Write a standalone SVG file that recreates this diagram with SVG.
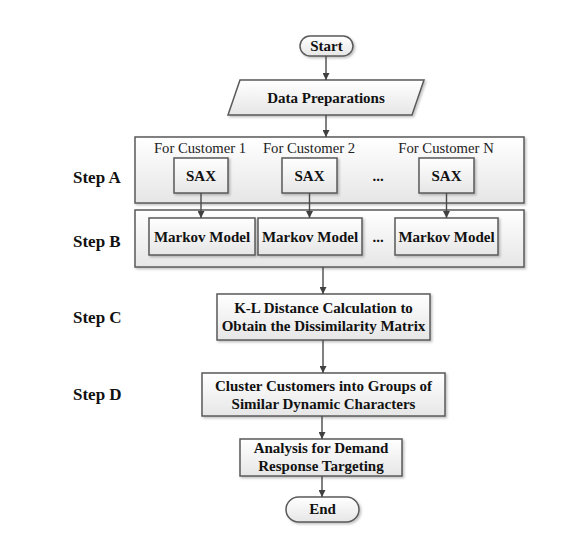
<svg xmlns="http://www.w3.org/2000/svg" width="564" height="536" viewBox="0 0 564 536">
<defs>
<linearGradient id="g" x1="0" y1="0" x2="0" y2="1">
<stop offset="0" stop-color="#ffffff"/>
<stop offset="1" stop-color="#e6e6e6"/>
</linearGradient>
<filter id="sh" x="-10%" y="-10%" width="130%" height="140%">
<feDropShadow dx="1.5" dy="1.5" stdDeviation="1" flood-color="#000" flood-opacity="0.25"/>
</filter>
<marker id="ah" viewBox="0 0 10 10" refX="10" refY="5" markerWidth="7" markerHeight="7" markerUnits="userSpaceOnUse" orient="auto">
<path d="M0,0 L10,5 L0,10 z" fill="#404040"/>
</marker>
</defs>
<style>
.box{fill:url(#g);stroke:#5a5a5a;stroke-width:1.5;filter:url(#sh)}
.t{font-family:"Liberation Serif","Times New Roman",serif;font-weight:bold;font-size:15px;fill:#111;text-anchor:middle}
.r{font-family:"Liberation Serif","Times New Roman",serif;font-size:14.7px;fill:#222;text-anchor:middle}
.s{font-family:"Liberation Serif","Times New Roman",serif;font-weight:bold;font-size:17px;fill:#111}
.c{stroke:#4a4a4a;stroke-width:1.4;fill:none;marker-end:url(#ah)}
</style>
<rect width="564" height="536" fill="#fff"/>

<g id="stepA">
<rect class="box" x="135" y="137" width="389" height="66"/>
<text class="s" x="73" y="183">Step A</text>
<text class="r" x="200" y="153">For Customer 1</text>
<text class="r" x="309" y="153">For Customer 2</text>
<text class="r" x="446" y="153">For Customer N</text>
<text class="t" x="378" y="181">...</text>
</g>
<g id="stepB">
<rect class="box" x="135" y="210" width="389" height="57"/>
<text class="s" x="73" y="247">Step B</text>
<text class="t" x="378" y="242">...</text>
</g>

<g id="start">
<rect class="box" x="300" y="36" width="53" height="20" rx="10" ry="10"/>
<text class="t" x="326.5" y="51">Start</text>
</g>
<g id="data">
<polygon class="box" points="240,80 424,80 412,115 228,115"/>
<text class="t" x="326" y="103">Data Preparations</text>
</g>
<g id="sax1">
<rect class="box" x="174" y="158" width="54" height="35"/>
<text class="t" x="201" y="181">SAX</text>
</g>
<g id="sax2">
<rect class="box" x="282" y="158" width="55" height="35"/>
<text class="t" x="309.5" y="181">SAX</text>
</g>
<g id="saxN">
<rect class="box" x="419" y="158" width="55" height="35"/>
<text class="t" x="446.5" y="181">SAX</text>
</g>
<g id="markov1">
<rect class="box" x="149" y="218" width="106" height="37"/>
<text class="t" x="202" y="242">Markov Model</text>
</g>
<g id="markov2">
<rect class="box" x="258" y="218" width="104" height="37"/>
<text class="t" x="310" y="242">Markov Model</text>
</g>
<g id="markovN">
<rect class="box" x="395" y="218" width="103" height="37"/>
<text class="t" x="446.5" y="242">Markov Model</text>
</g>
<g id="stepC">
<text class="s" x="73" y="323">Step C</text>
<rect class="box" x="217" y="294" width="213" height="46"/>
<text class="t" x="323.5" y="313">K-L Distance Calculation to</text>
<text class="t" x="323.5" y="331">Obtain the Dissimilarity Matrix</text>
</g>
<g id="stepD">
<text class="s" x="73" y="400">Step D</text>
<rect class="box" x="202" y="373" width="243" height="43"/>
<text class="t" x="323.5" y="391">Cluster Customers into Groups of</text>
<text class="t" x="323.5" y="409">Similar Dynamic Characters</text>
</g>
<g id="analysis">
<rect class="box" x="240" y="439" width="162" height="37"/>
<text class="t" x="321" y="453">Analysis for Demand</text>
<text class="t" x="321" y="471">Response Targeting</text>
</g>
<g id="end">
<rect class="box" x="286" y="497" width="73" height="25" rx="12.5" ry="12.5"/>
<text class="t" x="322.5" y="514">End</text>
</g>

<g id="connectors">
<line class="c" x1="326" y1="56" x2="326" y2="80"/>
<line class="c" x1="326" y1="115" x2="326" y2="137"/>
<line class="c" x1="201" y1="193" x2="201" y2="218"/>
<line class="c" x1="309.5" y1="193" x2="309.5" y2="218"/>
<line class="c" x1="446.5" y1="193" x2="446.5" y2="218"/>
<line class="c" x1="323" y1="267" x2="323" y2="294"/>
<line class="c" x1="323" y1="340" x2="323" y2="373"/>
<line class="c" x1="322" y1="416" x2="322" y2="439"/>
<line class="c" x1="322" y1="476" x2="322" y2="497"/>
</g>
</svg>
